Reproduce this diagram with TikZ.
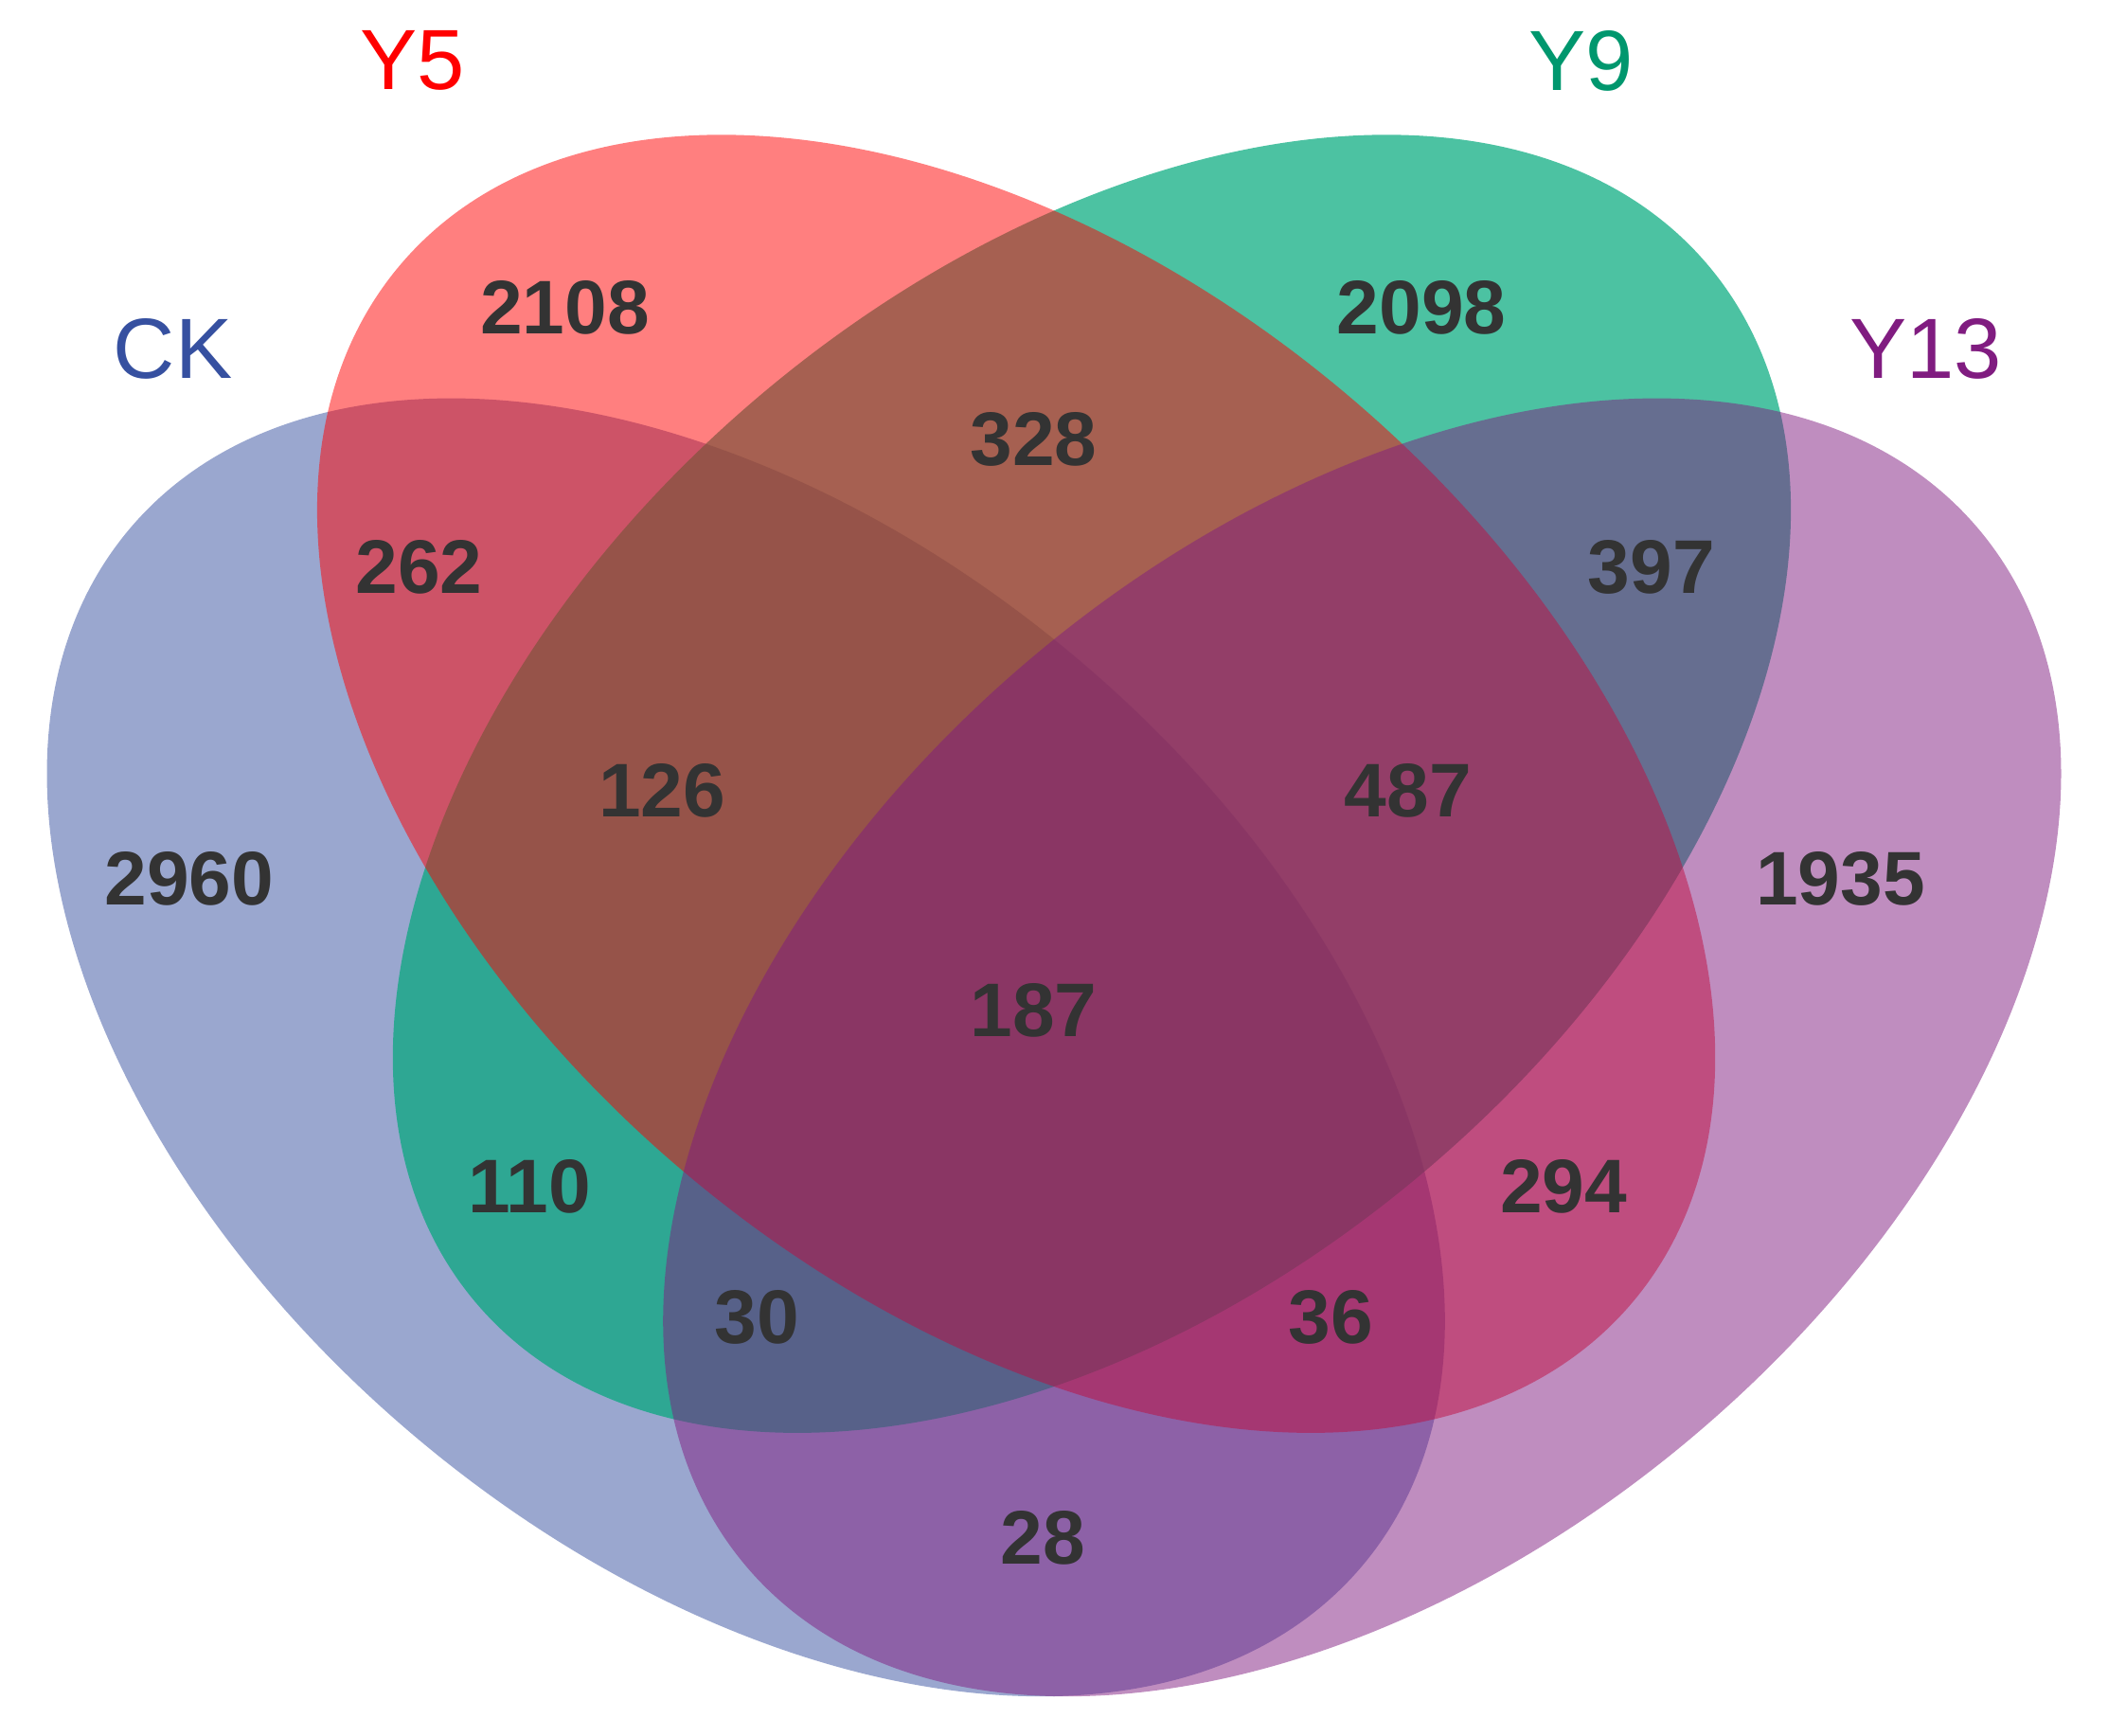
\documentclass[tikz,border=0pt]{standalone}
\usepackage{fontspec}
\setmainfont{Liberation Sans}
\definecolor{ckc}{RGB}{54,80,160}
\definecolor{y5c}{RGB}{255,0,0}
\definecolor{y9c}{RGB}{0,168,122}
\definecolor{y13c}{RGB}{128,28,128}
\definecolor{numc}{RGB}{51,51,51}
\begin{document}
\begin{tikzpicture}
\useasboundingbox (0,0) rectangle (15.6,12.84);
\tikzset{num/.style={text=numc,font=\fontsize{16}{19}\selectfont\bfseries},
 lab/.style={font=\fontsize{18}{21}\selectfont}}
\fill[ckc,opacity=0.5] (5.52,5.09) ellipse[x radius=5.96,y radius=3.78,rotate=-40];
\fill[y9c,opacity=0.7] (8.08,7.04) ellipse[x radius=5.96,y radius=3.78,rotate=40];
\fill[y5c,opacity=0.5] (7.52,7.04) ellipse[x radius=5.96,y radius=3.78,rotate=-40];
\fill[y13c,opacity=0.5] (10.08,5.09) ellipse[x radius=5.96,y radius=3.78,rotate=40];
\node[lab,text=ckc] (lck) at (1.28,10.26) {CK};
\node[lab,text=y5c] (ly5) at (3.05,12.39) {Y5};
\node[lab,text=y9c!90!black] (ly9) at (11.70,12.39) {Y9};
\node[lab,text=y13c] (ly13) at (14.25,10.26) {Y13};
\node[num] (n1) at (4.18,10.56) {2108};
\node[num] (n2) at (10.52,10.56) {2098};
\node[num] (n3) at (7.65,9.59) {328};
\node[num] (n4) at (3.10,8.64) {262};
\node[num] (n5) at (12.22,8.64) {397};
\node[num] (n6) at (4.90,6.99) {126};
\node[num] (n7) at (10.42,6.99) {487};
\node[num] (n8) at (1.40,6.34) {2960};
\node[num] (n9) at (13.62,6.34) {1935};
\node[num] (n10) at (7.65,5.36) {187};
\node[num] (n11) at (3.92,4.06) {110};
\node[num] (n12) at (11.57,4.06) {294};
\node[num] (n13) at (5.60,3.09) {30};
\node[num] (n14) at (9.85,3.09) {36};
\node[num] (n15) at (7.72,1.46) {28};
\end{tikzpicture}
\end{document}
